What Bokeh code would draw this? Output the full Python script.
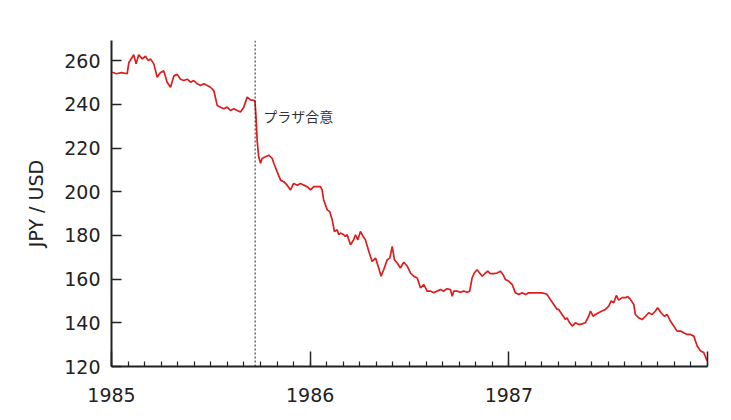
from bokeh.plotting import figure
from bokeh.models import FixedTicker, Span, Label, Range1d
from bokeh.embed import file_html
from bokeh.resources import INLINE

# Years elapsed since 1985-01-01 and JPY per USD
year_offset = [0.004, 0.025, 0.05, 0.079, 0.087, 0.112, 0.124, 0.137, 0.155, 0.171, 0.185, 0.196,
               0.213, 0.230, 0.247, 0.263, 0.280, 0.297, 0.314, 0.331, 0.347, 0.364, 0.381, 0.398,
               0.414, 0.431, 0.448, 0.465, 0.482, 0.498, 0.515, 0.532, 0.549, 0.565, 0.582, 0.599,
               0.616, 0.633, 0.649, 0.666, 0.683, 0.700, 0.716, 0.722, 0.727, 0.733, 0.741, 0.750,
               0.758, 0.775, 0.792, 0.809, 0.817, 0.834, 0.851, 0.867, 0.884, 0.901, 0.917, 0.935,
               0.951, 0.968, 0.985, 1.002, 1.018, 1.035, 1.052, 1.060, 1.068, 1.086, 1.098, 1.111,
               1.122, 1.136, 1.144, 1.153, 1.169, 1.177, 1.186, 1.203, 1.219, 1.228, 1.240, 1.253,
               1.266, 1.278, 1.295, 1.312, 1.329, 1.345, 1.357, 1.370, 1.388, 1.401, 1.413, 1.424,
               1.438, 1.454, 1.471, 1.488, 1.505, 1.521, 1.539, 1.555, 1.572, 1.589, 1.605, 1.622,
               1.639, 1.656, 1.672, 1.689, 1.706, 1.715, 1.723, 1.740, 1.756, 1.773, 1.790, 1.803,
               1.815, 1.826, 1.840, 1.853, 1.866, 1.882, 1.894, 1.907, 1.924, 1.941, 1.958, 1.971,
               1.983, 2.000, 2.017, 2.033, 2.050, 2.067, 2.084, 2.100, 2.117, 2.134, 2.151, 2.168,
               2.184, 2.193, 2.209, 2.226, 2.243, 2.251, 2.268, 2.285, 2.293, 2.306, 2.319, 2.335,
               2.352, 2.369, 2.385, 2.402, 2.411, 2.424, 2.436, 2.452, 2.469, 2.486, 2.503, 2.515,
               2.528, 2.541, 2.553, 2.570, 2.587, 2.598, 2.612, 2.629, 2.637, 2.654, 2.671, 2.688,
               2.704, 2.721, 2.738, 2.749, 2.766, 2.783, 2.797, 2.813, 2.830, 2.847, 2.864, 2.880,
               2.897, 2.914, 2.931, 2.948, 2.964, 2.981, 2.998]
jpy = [254.7, 254.0, 254.5, 254.0, 259.0, 262.7, 258.5, 262.7, 260.8, 262.0, 260.0, 260.8,
       258.5, 252.4, 254.6, 255.3, 250.1, 247.8, 253.0, 253.7, 251.5, 250.9, 251.5, 250.1,
       250.9, 249.4, 248.6, 249.4, 248.6, 247.8, 246.3, 239.5, 238.7, 238.0, 238.7, 237.2,
       238.0, 237.2, 236.5, 238.7, 243.3, 242.0, 241.8, 241.5, 235.0, 223.6, 216.0, 213.0,
       215.2, 216.0, 216.7, 215.2, 213.0, 209.1, 205.3, 204.6, 203.0, 200.8, 203.8, 203.0,
       203.8, 203.0, 202.3, 200.8, 202.3, 202.3, 202.3, 200.8, 196.2, 191.7, 190.9, 187.1,
       181.8, 182.6, 180.3, 181.1, 180.3, 179.6, 180.3, 175.7, 178.0, 180.3, 178.0, 181.8,
       179.6, 178.0, 172.7, 168.1, 169.6, 165.1, 161.3, 164.3, 168.9, 169.6, 175.0, 168.9,
       167.4, 165.1, 167.7, 166.0, 162.8, 161.3, 160.5, 156.0, 157.5, 154.5, 154.5, 153.7,
       154.5, 155.2, 154.5, 155.6, 155.2, 152.1, 154.5, 154.5, 154.0, 154.5, 154.0, 154.5,
       160.5, 162.8, 164.3, 162.8, 161.3, 162.8, 163.6, 162.5, 162.5, 162.8, 163.6, 162.0,
       159.8, 159.0, 157.5, 153.7, 152.9, 153.7, 152.9, 153.7, 153.7, 153.7, 153.7, 153.7,
       153.3, 152.9, 150.7, 148.4, 146.1, 146.1, 143.8, 141.5, 142.3, 140.0, 138.5, 140.0,
       139.2, 139.5, 140.0, 143.0, 145.4, 143.0, 143.8, 144.6, 145.4, 146.1, 147.6, 150.0,
       149.2, 152.5, 150.4, 151.5, 151.5, 152.0, 150.7, 148.4, 143.8, 142.3, 141.5, 143.0,
       144.6, 143.8, 145.4, 146.9, 144.6, 143.0, 143.8, 140.8, 138.5, 136.2, 136.2, 135.5,
       134.7, 134.7, 133.9, 129.4, 127.2, 126.4, 122.6]

start_year = 1985
year_ticks = [1985, 1986, 1987, 1988]
year_labels = {1985: "1985", 1986: "1986", 1987: "1987", 1988: ""}
y_ticks = [120, 140, 160, 180, 200, 220, 240, 260]
plaza_date = 1985.723
plaza_label = "プラザ合意"
plaza_label_y = 234.5
y_label = "JPY / USD"

years = [start_year + t for t in year_offset]

p = figure(width=715, height=404, output_backend="svg", toolbar_location=None,
           x_range=Range1d(1985, 1988), y_range=Range1d(120, 269.2),
           min_border_left=111, min_border_right=8, min_border_top=40, min_border_bottom=37)
p.outline_line_color = None
p.xgrid.visible = False
p.ygrid.visible = False
p.background_fill_color = "white"
p.border_fill_color = "white"

p.line(years, jpy, line_color="#dc1e1e", line_width=1.7)

p.add_layout(Span(location=plaza_date, dimension="height", line_color="#222222",
                  line_dash="2 2", line_width=1))
p.add_layout(Label(x=plaza_date, y=plaza_label_y, text=plaza_label, x_offset=8,
                   text_font="Noto Sans CJK JP", text_font_size="14px",
                   text_color="#333333", text_baseline="middle", text_align="left"))

font = "DejaVu Sans"
xa = p.xaxis[0]
xa.ticker = FixedTicker(ticks=year_ticks,
                        minor_ticks=[start_year + i / 12 for i in range(37)])
xa.major_label_overrides = year_labels
xa.major_tick_in = 15
xa.major_tick_out = 0
xa.minor_tick_in = 5
xa.minor_tick_out = 0
xa.major_label_standoff = 21
xa.major_label_text_font = font
xa.major_label_text_font_size = "19px"
xa.major_label_text_color = "#222222"

ya = p.yaxis[0]
ya.ticker = FixedTicker(ticks=y_ticks, minor_ticks=[])
ya.major_tick_in = 10
ya.major_tick_out = 0
ya.minor_tick_in = 0
ya.minor_tick_out = 0
ya.major_label_standoff = 11
ya.major_label_text_font = font
ya.major_label_text_font_size = "19px"
ya.major_label_text_color = "#222222"
ya.axis_label = y_label
ya.axis_label_text_font = font
ya.axis_label_text_font_size = "19px"
ya.axis_label_text_font_style = "normal"
ya.axis_label_text_color = "#222222"
ya.axis_label_standoff = 14

for ax in (xa, ya):
    ax.axis_line_color = "#222222"
    ax.axis_line_width = 2
    ax.major_tick_line_color = "#222222"
    ax.major_tick_line_width = 1.5
    ax.minor_tick_line_color = "#222222"
    ax.minor_tick_line_width = 1.2

open("out.html", "w").write(file_html(p, INLINE))
